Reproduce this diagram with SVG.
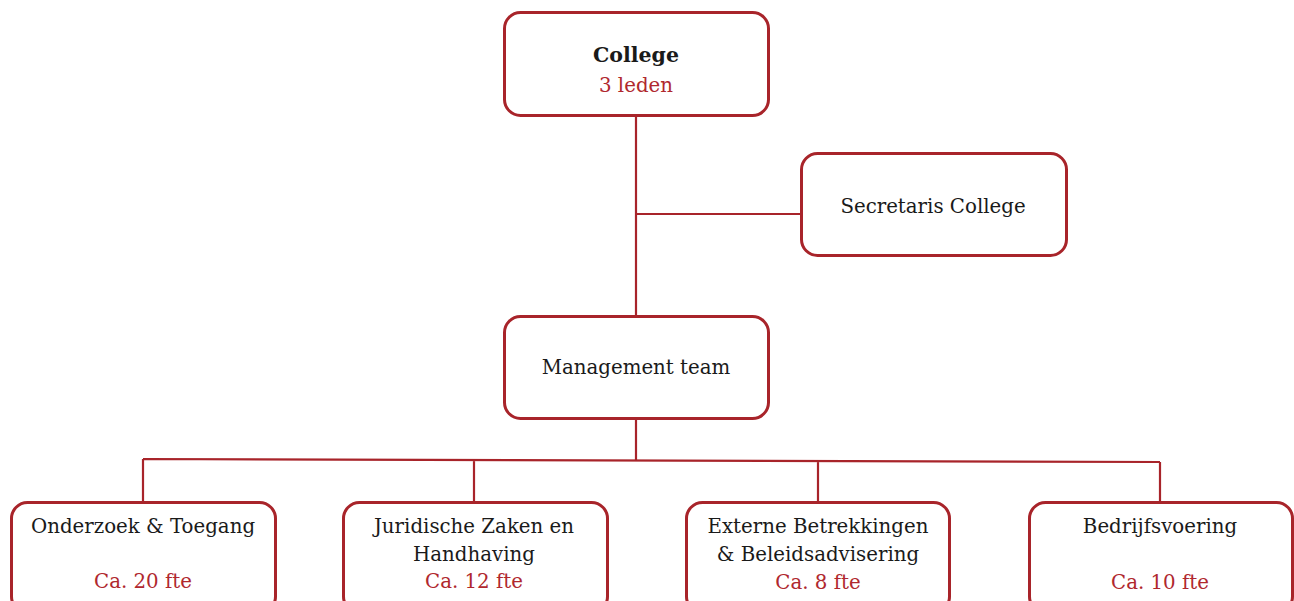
<svg xmlns="http://www.w3.org/2000/svg" width="1294" height="601" viewBox="0 0 1294 601">
<style>
.box{fill:#fff;stroke:#a8242a;stroke-width:3}
.ln{stroke:#a8242a;stroke-width:2.2;fill:none}
text{font-family:"DejaVu Serif","Liberation Serif",serif;font-size:19.8px;text-anchor:middle;fill:#1a1a1a}
.red{fill:#b0282e}
.b{font-weight:bold;font-size:20.5px}
</style>
<rect width="1294" height="601" fill="#fff"/>
<g id="connectors">
<path class="ln" d="M636 115V316M636 214H801M636 418V460M143 459L1160 462M143 459V502M474 460V502M818 461V502M1160 462V502"/>
</g>
<g id="college">
<rect class="box" x="504.5" y="12.5" width="264" height="103" rx="16"/>
<text x="636" y="62" class="b">College</text>
<text x="636" y="92" class="red">3 leden</text>
</g>
<g id="secretaris">
<rect class="box" x="801.5" y="153.5" width="265" height="102" rx="16"/>
<text x="933" y="213">Secretaris College</text>
</g>
<g id="management">
<rect class="box" x="504.5" y="316.5" width="264" height="102" rx="16"/>
<text x="636" y="374">Management team</text>
</g>
<g id="onderzoek">
<rect class="box" x="11.5" y="502.5" width="264" height="110" rx="16"/>
<text x="143" y="533">Onderzoek &amp; Toegang</text>
<text x="143" y="588" class="red">Ca. 20 fte</text>
</g>
<g id="juridische">
<rect class="box" x="343.5" y="502.5" width="264" height="110" rx="16"/>
<text x="474" y="533">Juridische Zaken en</text>
<text x="474" y="561">Handhaving</text>
<text x="474" y="588" class="red">Ca. 12 fte</text>
</g>
<g id="externe">
<rect class="box" x="686.5" y="502.5" width="263" height="110" rx="16"/>
<text x="818" y="533">Externe Betrekkingen</text>
<text x="818" y="561">&amp; Beleidsadvisering</text>
<text x="818" y="589" class="red">Ca. 8 fte</text>
</g>
<g id="bedrijfsvoering">
<rect class="box" x="1029.5" y="502.5" width="263" height="110" rx="16"/>
<text x="1160" y="533">Bedrijfsvoering</text>
<text x="1160" y="589" class="red">Ca. 10 fte</text>
</g>
</svg>
